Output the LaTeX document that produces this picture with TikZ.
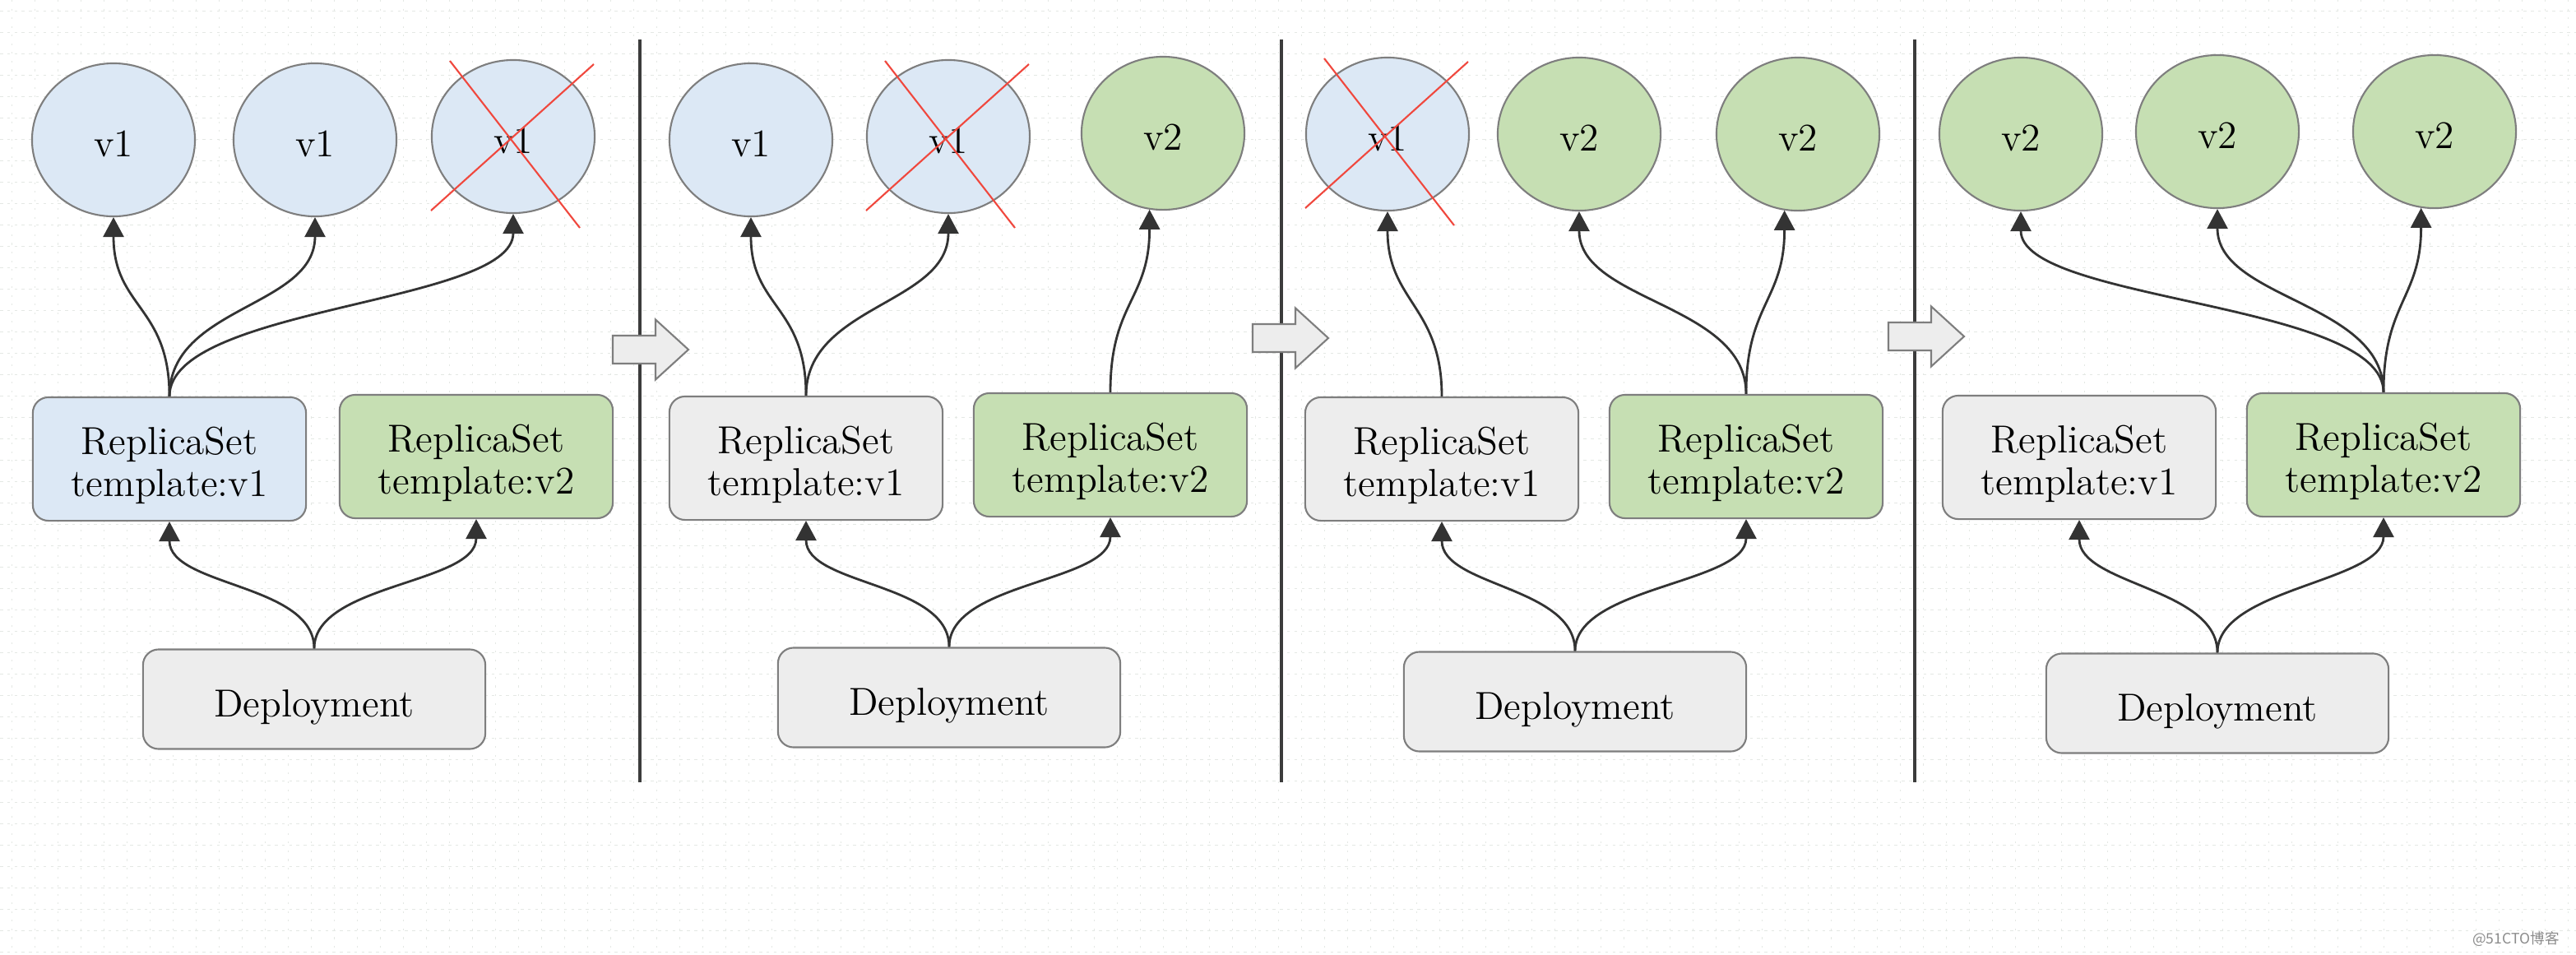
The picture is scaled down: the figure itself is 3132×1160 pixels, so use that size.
\documentclass[tikz,border=0pt]{standalone}
\usepackage{fontspec}
\newfontfamily\cjkfont{Noto Sans CJK SC}
\usetikzlibrary{shapes.geometric,arrows.meta}

\definecolor{podblue}{HTML}{DCE8F5}
\definecolor{podgreen}{HTML}{C6DFB3}
\definecolor{boxgray}{HTML}{EDEDED}
\definecolor{edgegray}{HTML}{7E7E7E}
\definecolor{linkdark}{HTML}{333333}
\definecolor{crossred}{HTML}{F0483E}
\definecolor{gridtint}{HTML}{E4E8E4}
\definecolor{dividerline}{HTML}{3C3C3C}

\tikzset{
  labelfont/.style={font=\fontsize{13.5}{14.5}\selectfont},
  pod/.style={ellipse, draw=edgegray, line width=0.6pt,
    minimum width=1.98cm, minimum height=1.86cm, inner sep=0pt, labelfont,
    text height=11.4pt, text depth=0pt},
  podold/.style={pod, fill=podblue},
  podnew/.style={pod, fill=podgreen},
  card/.style={rectangle, rounded corners=0.19cm, draw=edgegray,
    line width=0.6pt, align=center, labelfont, inner sep=0pt},
  rsbox/.style={card, minimum width=3.32cm, minimum height=1.5cm,
    text height=28.2pt, text depth=2.6pt},
  depbox/.style={card, fill=boxgray, minimum width=4.16cm, minimum height=1.21cm,
    text height=15pt, text depth=2.6pt},
  link/.style={draw=linkdark, line width=0.8pt,
    -{Triangle[length=0.24cm,width=0.25cm]}},
  killed/.style={draw=crossred, line width=0.6pt},
  divider/.style={draw=dividerline, line width=0.9pt},
  shiftarrow/.style={fill=boxgray, draw=edgegray, line width=0.6pt},
  crossmark/.pic={
    \draw[killed] (-77,-92) -- (81,111);
    \draw[killed] (98,-88) -- (-100,90);
  },
  stepper/.pic={
    \path[shiftarrow] (0,-17) -- (52,-17) -- (52,-36.5) -- (92,0)
      -- (52,36.5) -- (52,17) -- (0,17) -- cycle;
  },
}

\begin{document}
\begin{tikzpicture}[x=0.01cm, y=-0.01cm]
  % canvas and faint grid
  \fill[white] (0,0) rectangle (3132,1160);
  \useasboundingbox (0,0) rectangle (3132,1160);
  \foreach \gy in {13,39,...,1160}
    \draw[gridtint, line width=0.25pt, dash pattern=on 1pt off 1.5pt] (0,\gy) -- (3132,\gy);
  \foreach \gx in {14,42,...,3132}
    \draw[gridtint, line width=0.25pt, dash pattern=on 0.6pt off 2.4pt] (\gx,0) -- (\gx,1160);

  % dividers between the stages
  \draw[divider] (778,48) -- (778,951);
  \draw[divider] (1558,48) -- (1558,951);
  \draw[divider] (2328,48) -- (2328,951);

  % stage transition arrows
  \pic at (745,425) {stepper};
  \pic at (1523,411) {stepper};
  \pic at (2296,409) {stepper};

  % ---------------- stage 1 ----------------
  \node[podold] (p1a) at (138,170) {v1};
  \node[podold] (p1b) at (383,170) {v1};
  \node[podold] (p1c) at (624,166) {v1};
  \node[rsbox, fill=podblue] (p1old) at (206,558) {ReplicaSet\\template:v1};
  \node[rsbox, fill=podgreen] (p1new) at (579,555) {ReplicaSet\\template:v2};
  \node[depbox] (p1dep) at (382,850) {Deployment};

  \draw[link] (p1old.north) .. controls +(0,-110) and +(0,110) .. (p1a.south);
  \draw[link] (p1old.north) .. controls +(0,-110) and +(0,110) .. (p1b.south);
  \draw[link] (p1old.north) .. controls +(0,-110) and +(0,110) .. (p1c.south);
  \draw[link] (p1dep.north) .. controls +(0,-79) and +(0,79) .. (p1old.south);
  \draw[link] (p1dep.north) .. controls +(0,-79) and +(0,79) .. (p1new.south);
  \pic at (p1c.center) {crossmark};

  % ---------------- stage 2 ----------------
  \node[podold] (p2a) at (913,170) {v1};
  \node[podold] (p2b) at (1153,166) {v1};
  \node[podnew] (p2c) at (1414,162) {v2};
  \node[rsbox, fill=boxgray] (p2old) at (980,557) {ReplicaSet\\template:v1};
  \node[rsbox, fill=podgreen] (p2new) at (1350,553) {ReplicaSet\\template:v2};
  \node[depbox] (p2dep) at (1154,848) {Deployment};

  \draw[link] (p2old.north) .. controls +(0,-110) and +(0,110) .. (p2a.south);
  \draw[link] (p2old.north) .. controls +(0,-110) and +(0,110) .. (p2b.south);
  \draw[link] (p2new.north) .. controls +(0,-110) and +(0,110) .. (p2c.-100);
  \draw[link] (p2dep.north) .. controls +(0,-79) and +(0,79) .. (p2old.south);
  \draw[link] (p2dep.north) .. controls +(0,-79) and +(0,79) .. (p2new.south);
  \pic at (p2b.center) {crossmark};

  % ---------------- stage 3 ----------------
  \node[podold] (p3a) at (1687,163) {v1};
  \node[podnew] (p3b) at (1920,163) {v2};
  \node[podnew] (p3c) at (2186,163) {v2};
  \node[rsbox, fill=boxgray] (p3old) at (1753,558) {ReplicaSet\\template:v1};
  \node[rsbox, fill=podgreen] (p3new) at (2123,555) {ReplicaSet\\template:v2};
  \node[depbox] (p3dep) at (1915,853) {Deployment};

  \draw[link] (p3old.north) .. controls +(0,-110) and +(0,110) .. (p3a.south);
  \draw[link] (p3new.north) .. controls +(0,-110) and +(0,110) .. (p3b.south);
  \draw[link] (p3new.north) .. controls +(0,-110) and +(0,110) .. (p3c.-100);
  \draw[link] (p3dep.north) .. controls +(0,-79) and +(0,79) .. (p3old.south);
  \draw[link] (p3dep.north) .. controls +(0,-79) and +(0,79) .. (p3new.south);
  \pic at (p3a.center) {crossmark};

  % ---------------- stage 4 ----------------
  \node[podnew] (p4a) at (2457,163) {v2};
  \node[podnew] (p4b) at (2696,160) {v2};
  \node[podnew] (p4c) at (2960,160) {v2};
  \node[rsbox, fill=boxgray] (p4old) at (2528,556) {ReplicaSet\\template:v1};
  \node[rsbox, fill=podgreen] (p4new) at (2898,553) {ReplicaSet\\template:v2};
  \node[depbox] (p4dep) at (2696,855) {Deployment};

  \draw[link] (p4new.north) .. controls +(0,-110) and +(0,110) .. (p4a.south);
  \draw[link] (p4new.north) .. controls +(0,-110) and +(0,110) .. (p4b.south);
  \draw[link] (p4new.north) .. controls +(0,-110) and +(0,110) .. (p4c.-100);
  \draw[link] (p4dep.north) .. controls +(0,-79) and +(0,79) .. (p4old.south);
  \draw[link] (p4dep.north) .. controls +(0,-79) and +(0,79) .. (p4new.south);

  % watermark
  \node[font=\cjkfont\fontsize{5}{6}\selectfont, text=black!45, anchor=east]
    (mark) at (3124,1142) {@51CTO博客};
\end{tikzpicture}
\end{document}
